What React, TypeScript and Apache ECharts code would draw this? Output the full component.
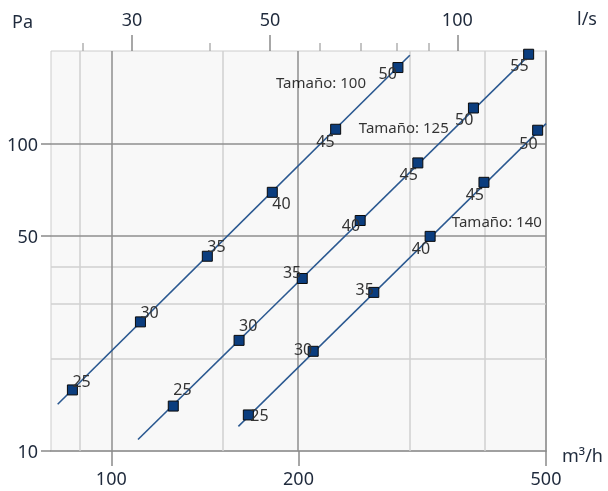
import React, { useEffect, useRef } from 'react';
import * as echarts from 'echarts';

// ---- data (flow in m³/h, pressure in Pa) ----
const flow100 = [86.6, 111.4, 142.7, 181.5, 229.5, 289];
const pres100 = [15.8, 26.3, 43.0, 69.4, 111.3, 176.7];
const noise100 = [25, 30, 35, 40, 45, 50];

const flow125 = [125.8, 160.5, 202.8, 251.3, 311.1, 382.2, 468.9];
const pres125 = [14.0, 22.9, 36.4, 56.2, 86.5, 130.5, 195.2];
const noise125 = [25, 30, 35, 40, 45, 50, 55];

const flow140 = [166.1, 211.2, 264.3, 325.6, 397.4, 484.8];
const pres140 = [13.1, 21.1, 32.8, 49.9, 74.8, 110.5];
const noise140 = [25, 30, 35, 40, 45, 50];

// curve end points
const lineFlow100 = [82, 302];
const linePres100 = [14.19, 193.8];
const lineFlow125 = [110.4, 475.9];
const linePres125 = [10.9, 199];
const lineFlow140 = [160.1, 500];
const linePres140 = [12.03, 116.1];

// size tags
const tagSizes = [100, 125, 140];
const tagFlow = [184, 250, 352.8];
const tagPres = [158.7, 113.2, 55.9];

// axes
const bottomTicks = [100, 200, 500];
const topMajorTicks = [30, 50, 100]; // l/s
const topMinorTicks = [25, 40, 60, 70, 80, 90]; // l/s
const leftTicks = [10, 50, 100];
const xGridLight = [90, 150, 300, 400];
const xGridDark = [100, 200];
const yGridLight = [20, 30, 40];
const yGridDark = [50, 100];
const X_MIN = 80, X_MAX = 500, Y_MIN = 10, Y_MAX = 200;
const LS_TO_M3H = 3.6;

// label layout per point: [align, dx, dy]
const layout100: [string, number, number][] = [
  ['left', 0, -9], ['left', 0, -10], ['left', 0, -10], ['left', 0, 10.5], ['right', -1, 11.5], ['right', -1, 5],
];
const layout125: [string, number, number][] = [
  ['left', 0, -17], ['left', 0, -15], ['right', -1, -6.5], ['right', 0, 5], ['right', 0, 11.5], ['right', 0, 11], ['right', 0, 11],
];
const layout140: [string, number, number][] = [
  ['left', 2, 0], ['right', -1, -2], ['right', 0, -3], ['right', 0, 11.5], ['right', 0, 12], ['right', 0, 12.5],
];

const L = (v: number) => Math.log10(v);
const FONT = '"Noto Sans", "Open Sans", sans-serif';
const AXIS_TXT = '#1f2a3c';
const TICK = '#8a8a8a';
const LINE_C = '#2a5890';
const MARK_C = '#0b3d7e';

function lineSeries(fl: number[], pr: number[], extra: any = {}) {
  return {
    type: 'line',
    xAxisIndex: 0,
    yAxisIndex: 0,
    symbol: 'none',
    silent: true,
    z: 2,
    lineStyle: { color: LINE_C, width: 1.6 },
    data: fl.map((f, i) => [L(f), L(pr[i])]),
    ...extra,
  };
}

function markerSeries(fl: number[], pr: number[], noise: number[], lay: [string, number, number][]) {
  return {
    type: 'scatter',
    xAxisIndex: 0,
    yAxisIndex: 0,
    symbol: 'rect',
    symbolSize: 10,
    z: 4,
    silent: true,
    itemStyle: { color: MARK_C, borderColor: '#0a0a0a', borderWidth: 1, opacity: 1 },
    label: {
      show: true,
      position: 'inside',
      verticalAlign: 'middle',
      fontSize: 16,
      fontFamily: FONT,
      color: '#333333',
      formatter: (p: any) => String(p.data.noise),
    },
    data: fl.map((f, i) => ({
      value: [L(f), L(pr[i])],
      noise: noise[i],
      label: { align: lay[i][0], offset: [lay[i][1], lay[i][2]] },
    })),
  };
}

export default function App() {
  const ref = useRef<HTMLDivElement>(null);
  useEffect(() => {
    const chart = echarts.init(ref.current!, null, { renderer: 'svg' });
    const light = { color: '#d0d0d0', width: 1.5, type: 'solid' };
    const dark = { color: '#8f8f8f', width: 1.5, type: 'solid' };
    const gridLines = [
      ...xGridLight.map((v) => ({ xAxis: L(v), lineStyle: light })),
      ...yGridLight.map((v) => ({ yAxis: L(v), lineStyle: light })),
      ...xGridDark.map((v) => ({ xAxis: L(v), lineStyle: dark })),
      ...yGridDark.map((v) => ({ yAxis: L(v), lineStyle: dark })),
    ];
    const axisFont = { fontSize: 18, fontFamily: FONT, color: AXIS_TXT };
    const option: any = {
      animation: false,
      grid: {
        left: 51,
        top: 51,
        width: 495,
        height: 400,
        show: true,
        backgroundColor: '#f8f8f8',
        borderColor: '#cccccc',
        borderWidth: 1,
        containLabel: false,
        outerBoundsMode: 'none',
      },
      xAxis: [
        {
          type: 'value',
          position: 'bottom',
          min: L(X_MIN),
          max: L(X_MAX),
          axisLine: { show: true, lineStyle: { color: TICK, width: 1.5 } },
          axisTick: { show: true, customValues: bottomTicks.map(L), length: 15, lineStyle: { color: TICK, width: 1.5 } },
          axisLabel: {
            show: true,
            customValues: bottomTicks.map(L),
            margin: 18,
            ...axisFont,
            formatter: (v: number) => String(Math.round(Math.pow(10, v))),
          },
          splitLine: { show: false },
        },
        {
          type: 'value',
          position: 'top',
          min: L(X_MIN),
          max: L(X_MAX),
          axisLine: { show: false },
          axisTick: { show: true, customValues: topMajorTicks.map((v) => L(v * LS_TO_M3H)), length: 16, lineStyle: { color: TICK, width: 1.5 } },
          axisLabel: {
            show: true,
            customValues: topMajorTicks.map((v) => L(v * LS_TO_M3H)),
            margin: 23,
            ...axisFont,
            formatter: (v: number) => String(Math.round(Math.pow(10, v) / LS_TO_M3H)),
          },
          splitLine: { show: false },
        },
        {
          type: 'value',
          position: 'top',
          min: L(X_MIN),
          max: L(X_MAX),
          axisLine: { show: false },
          axisTick: { show: true, customValues: topMinorTicks.map((v) => L(v * LS_TO_M3H)), length: 8, lineStyle: { color: '#b0b0b0', width: 1.5 } },
          axisLabel: { show: false },
          splitLine: { show: false },
        },
      ],
      yAxis: [
        {
          type: 'value',
          position: 'left',
          min: L(Y_MIN),
          max: L(Y_MAX),
          axisLine: { show: false },
          axisTick: { show: true, customValues: leftTicks.map(L), length: 10, lineStyle: { color: TICK, width: 1.5 } },
          axisLabel: {
            show: true,
            customValues: leftTicks.map(L),
            margin: 13,
            ...axisFont,
            formatter: (v: number) => String(Math.round(Math.pow(10, v))),
          },
          splitLine: { show: false },
        },
        {
          type: 'value',
          position: 'right',
          min: L(Y_MIN),
          max: L(Y_MAX),
          axisLine: { show: true, lineStyle: { color: TICK, width: 1.5 } },
          axisTick: { show: false },
          axisLabel: { show: false },
          splitLine: { show: false },
        },
      ],
      graphic: [
        { type: 'text', left: 12, top: 12, style: { text: 'Pa', fontSize: 18, fontFamily: FONT, fill: AXIS_TXT } },
        { type: 'text', left: 577, top: 9, style: { text: 'l/s', fontSize: 18, fontFamily: FONT, fill: AXIS_TXT } },
        { type: 'text', left: 562, top: 446, style: { text: 'm³/h', fontSize: 18, fontFamily: FONT, fill: AXIS_TXT } },
      ],
      series: [
        lineSeries(lineFlow100, linePres100, {
          markLine: {
            silent: true,
            z: 1,
            symbol: ['none', 'none'],
            label: { show: false },
            lineStyle: { type: 'solid' },
            emphasis: { disabled: true },
            data: gridLines,
          },
        }),
        lineSeries(lineFlow125, linePres125),
        lineSeries(lineFlow140, linePres140),
        markerSeries(flow100, pres100, noise100, layout100),
        markerSeries(flow125, pres125, noise125, layout125),
        markerSeries(flow140, pres140, noise140, layout140),
        {
          type: 'scatter',
          xAxisIndex: 0,
          yAxisIndex: 0,
          symbol: 'circle',
          symbolSize: 1,
          silent: true,
          z: 5,
          itemStyle: { color: 'rgba(0,0,0,0)' },
          label: {
            show: true,
            position: 'inside',
            align: 'left',
            verticalAlign: 'middle',
            fontSize: 15,
            fontFamily: FONT,
            color: '#000000',
            formatter: (p: any) => 'Tamaño: ' + p.data.size,
          },
          data: tagSizes.map((s, i) => ({ value: [L(tagFlow[i]), L(tagPres[i])], size: s })),
        },
      ],
    };
    chart.setOption(option);
    return () => chart.dispose();
  }, []);
  return <div ref={ref} style={{ position: 'fixed', left: 0, top: 0, width: 608, height: 491 }} />;
}
